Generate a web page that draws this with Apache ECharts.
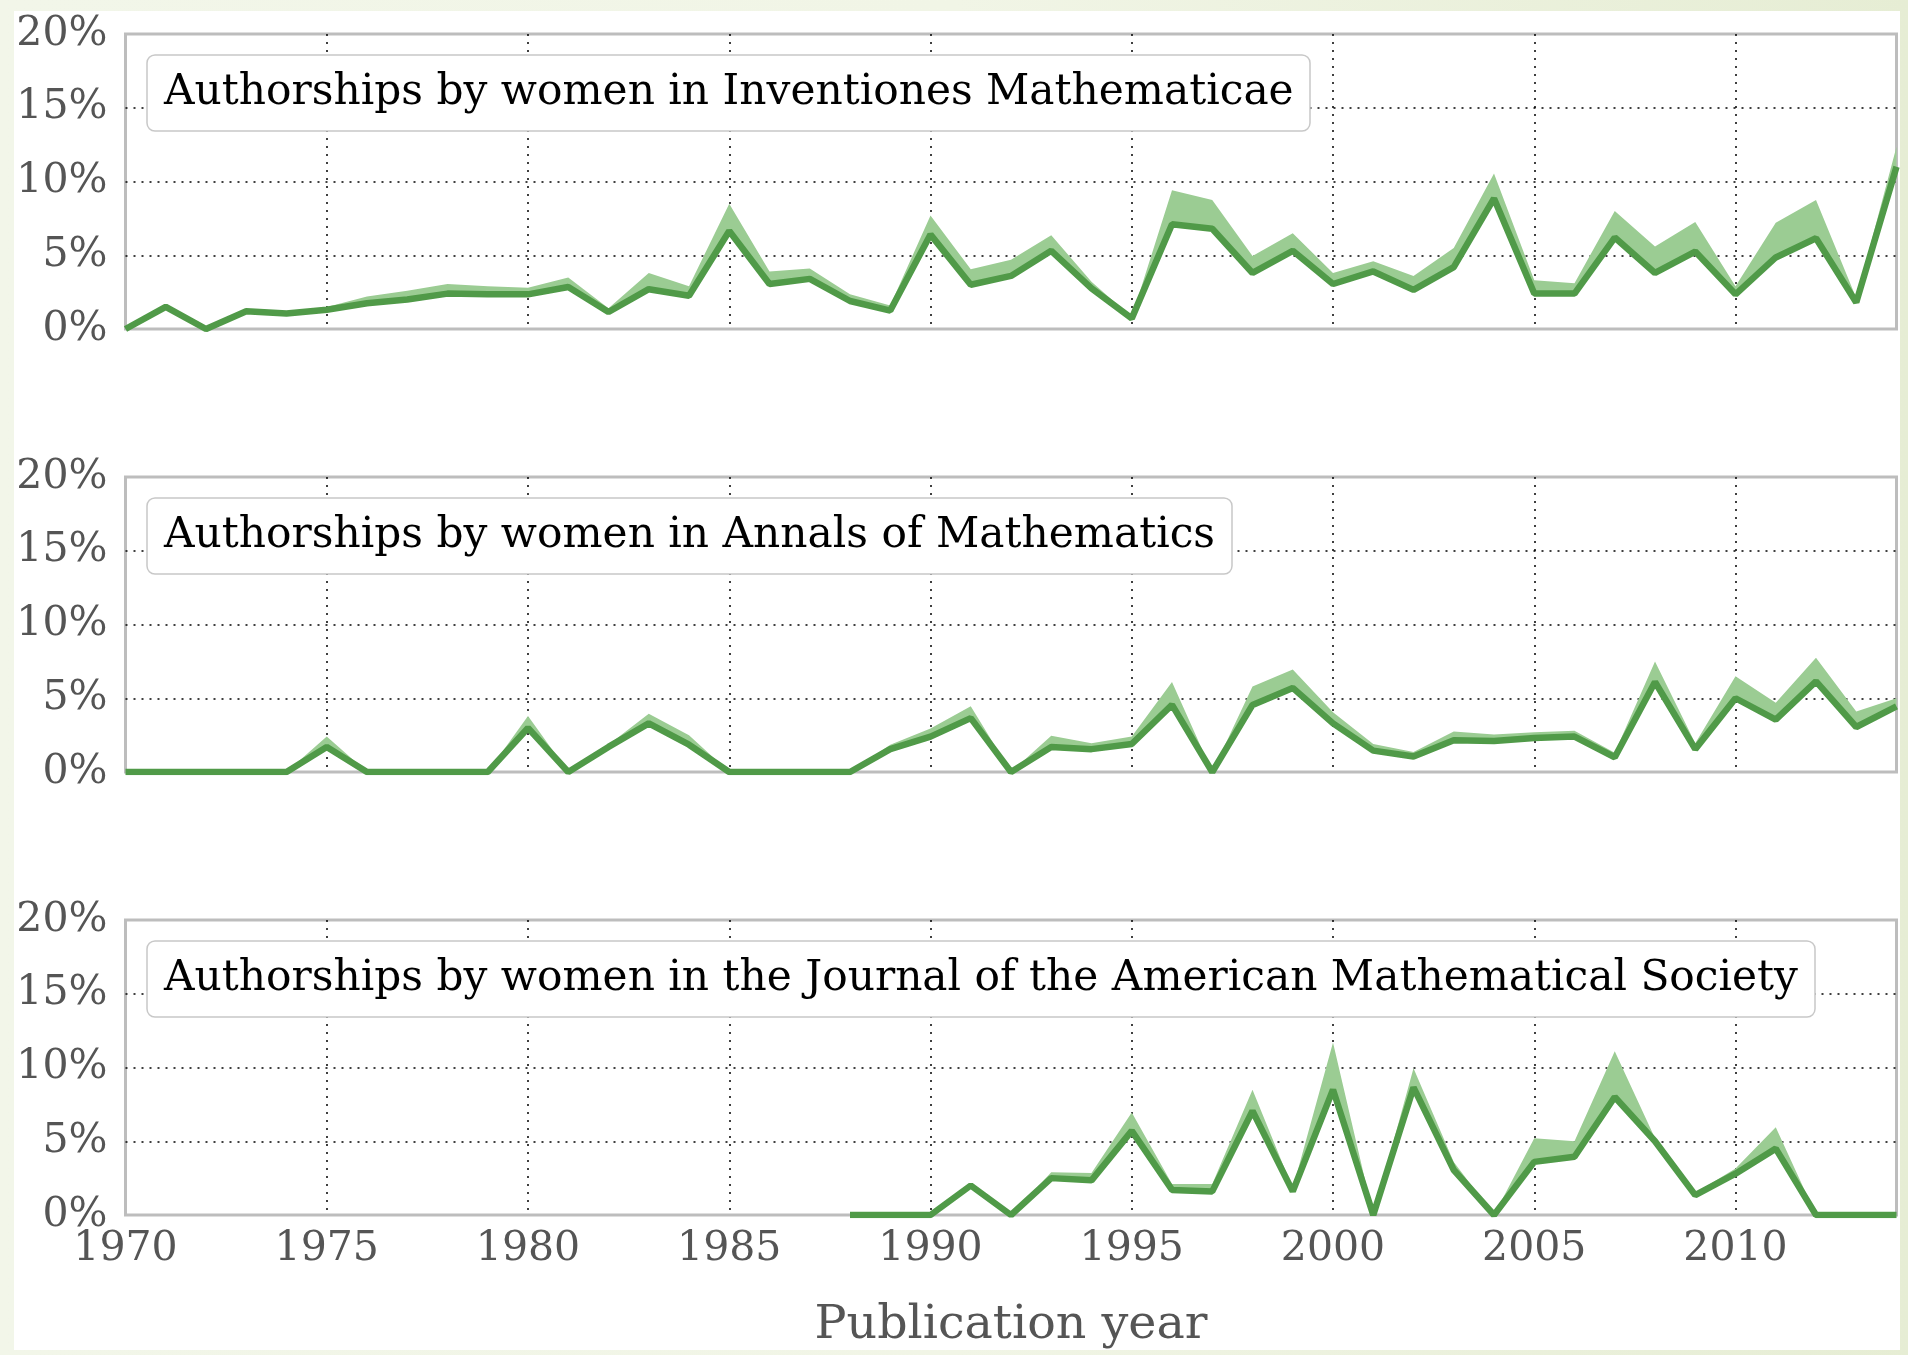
<!DOCTYPE html>
<html>
<head>
<meta charset="utf-8">
<script src="https://cdn.jsdelivr.net/npm/echarts@6/dist/echarts.min.js"></script>
<style>
  html, body { margin:0; padding:0; width:1908px; height:1355px; overflow:hidden;
    background: linear-gradient(90deg, #f2f6e9 0%, #f1f5e6 50%, #e6edd4 100%); }
  #paper { position:absolute; left:14px; top:11px; width:1886px; height:1339px; background:#ffffff; }
  #chart { position:absolute; left:0; top:0; width:1908px; height:1355px; }
</style>
</head>
<body>
<div id="paper"></div>
<div id="chart"></div>
<script>
// ---- data (percent) ----
const years = [1970,1971,1972,1973,1974,1975,1976,1977,1978,1979,
               1980,1981,1982,1983,1984,1985,1986,1987,1988,1989,
               1990,1991,1992,1993,1994,1995,1996,1997,1998,1999,
               2000,2001,2002,2003,2004,2005,2006,2007,2008,2009,
               2010,2011,2012,2013,2014];

const inventionesMid = [0,1.5,0,1.2,1.05,1.3,1.75,2.0,2.4,2.35,
                        2.35,2.85,1.15,2.7,2.25,6.65,3.05,3.4,1.9,1.25,
                        6.4,3.0,3.6,5.3,2.75,0.72,7.1,6.8,3.8,5.3,
                        3.05,3.9,2.65,4.2,8.85,2.4,2.4,6.2,3.8,5.25,
                        2.35,4.85,6.15,1.8,11.0];
const inventionesHigh = [0,1.7,0,1.25,1.1,1.5,2.2,2.6,3.05,2.9,
                         2.8,3.5,1.4,3.8,2.9,8.5,3.9,4.1,2.35,1.6,
                         7.7,4.05,4.7,6.35,3.2,0.8,9.4,8.75,4.95,6.5,
                         3.8,4.6,3.6,5.5,10.55,3.3,3.1,8.0,5.6,7.25,
                         2.9,7.2,8.75,2.1,12.35];

const annalsMid = [0,0,0,0,0,1.7,0,0,0,0,
                   2.98,0,1.7,3.3,1.85,0,0,0,0,1.55,
                   2.4,3.65,0,1.7,1.55,1.9,4.55,0,4.55,5.7,
                   3.3,1.45,1.05,2.15,2.1,2.3,2.4,1.0,6.1,1.55,
                   5.0,3.55,6.15,3.05,4.45];
const annalsHigh = [0,0,0,0,0,2.4,0,0,0,0,
                    3.8,0,1.85,3.95,2.5,0,0,0,0,1.85,
                    2.95,4.45,0,2.45,1.95,2.4,6.1,0,5.8,6.95,
                    4.05,1.9,1.35,2.75,2.55,2.7,2.8,1.3,7.5,1.95,
                    6.5,4.7,7.75,4.1,5.0];

const jamsMid = [null,null,null,null,null,null,null,null,null,null,
                 null,null,null,null,null,null,null,null,0,0,
                 0,2.0,0,2.5,2.35,5.7,1.7,1.6,7.05,1.6,
                 8.5,0,8.65,3.05,0,3.6,3.95,8.0,5.0,1.35,
                 2.8,4.5,0,0,0];
const jamsHigh = [null,null,null,null,null,null,null,null,null,null,
                  null,null,null,null,null,null,null,null,0,0,
                  0,2.0,0,2.9,2.85,6.95,2.1,2.1,8.5,1.8,
                  11.7,0,9.95,3.6,0,5.2,5.0,11.1,5.2,1.5,
                  3.15,5.95,0,0,0];

const yTicks = [0,5,10,15,20];
const panelTitles = [
  'Authorships by women in Inventiones Mathematicae',
  'Authorships by women in Annals of Mathematics',
  'Authorships by women in the Journal of the American Mathematical Society'
];
const xAxisTitle = 'Publication year';

// ---- build ----
const panels = [[inventionesMid, inventionesHigh],[annalsMid, annalsHigh],[jamsMid, jamsHigh]];
const gridTops = [34, 477, 920];
const GL = 125.5, GW = 1771, GH = 295;
const FONT = 'DejaVu Serif';
const lineColor = '#509a48';
const bandColor = '#9bcc93';

const grids = [], xAxes = [], yAxes = [], series = [], titles = [];
panels.forEach((p, i) => {
  const mid = p[0], high = p[1];
  grids.push({ left: GL, top: gridTops[i], width: GW, height: GH, show: true,
    borderColor: '#bdbdbd', borderWidth: 3, backgroundColor: 'transparent' });
  const last = i === panels.length - 1;
  xAxes.push({
    type: 'value', gridIndex: i, min: 1970, max: 2014, interval: 5,
    axisLine: { show: false }, axisTick: { show: false },
    axisLabel: { show: last, fontFamily: FONT, fontSize: 41, color: '#555555', margin: 14,
      formatter: v => (v % 5 === 0 ? String(v) : '') },
    splitLine: { show: true, showMinLine: false, showMaxLine: false,
      lineStyle: { color: '#000000', type: [2, 6], width: 1.5 } },
    name: last ? xAxisTitle : '', nameLocation: 'middle', nameGap: 87,
    nameTextStyle: { fontFamily: FONT, fontSize: 47.5, color: '#555555' }
  });
  yAxes.push({
    type: 'value', gridIndex: i, min: 0, max: 20, interval: 5,
    axisLine: { show: false }, axisTick: { show: false },
    axisLabel: { fontFamily: FONT, fontSize: 41, color: '#555555', margin: 18,
      formatter: v => (yTicks.indexOf(v) >= 0 ? v + '%' : '') },
    splitLine: { show: true, showMinLine: false, showMaxLine: false,
      lineStyle: { color: '#000000', type: [2, 6], width: 1.5 } }
  });
  const bandData = [], lineData = [];
  years.forEach((y, k) => {
    if (mid[k] === null) return;
    bandData.push([y, mid[k], high[k]]);
    lineData.push([y, mid[k]]);
  });
  series.push({
    type: 'custom', xAxisIndex: i, yAxisIndex: i, data: bandData, silent: true, z: 2,
    encode: { x: 0, y: [1, 2] },
    renderItem: (params, api) => {
      if (params.dataIndex !== 0) return null;
      const upper = bandData.map(d => api.coord([d[0], d[2]]));
      const lower = bandData.map(d => api.coord([d[0], d[1]])).reverse();
      return { type: 'polygon', shape: { points: upper.concat(lower) },
        style: { fill: bandColor, stroke: null } };
    }
  });
  series.push({ type: 'line', xAxisIndex: i, yAxisIndex: i, data: lineData,
    symbol: 'none', lineStyle: { color: lineColor, width: 6.5 }, silent: true, z: 3 });
  titles.push({ text: panelTitles[i], left: 147, top: gridTops[i] + 21,
    padding: [14, 17, 14, 17], borderColor: '#c8c8c8', borderWidth: 1.5, borderRadius: 8,
    backgroundColor: '#ffffff',
    textStyle: { fontFamily: FONT, fontSize: 42.3, fontWeight: 'normal', color: '#000000', lineHeight: 48 } });
});

const chart = echarts.init(document.getElementById('chart'), null, { renderer: 'canvas' });
chart.setOption({
  animation: false,
  backgroundColor: 'transparent',
  title: titles,
  grid: grids,
  xAxis: xAxes,
  yAxis: yAxes,
  series: series
});
</script>
</body>
</html>
